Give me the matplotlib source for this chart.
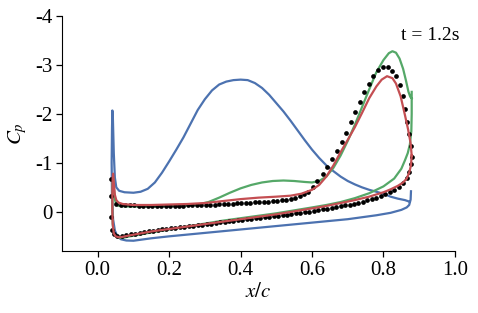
import matplotlib
matplotlib.use("Agg")
import matplotlib.pyplot as plt

plt.rcParams['font.family'] = ['Liberation Serif', 'DejaVu Serif']
plt.rcParams['mathtext.fontset'] = 'stix'
plt.rcParams['axes.unicode_minus'] = False

# blue: lower surface (TE -> LE) then upper surface (LE -> TE)
blue_x = [0.877, 0.876, 0.872, 0.865, 0.85, 0.82, 0.78, 0.70, 0.60, 0.50, 0.40, 0.30, 0.20,
          0.15, 0.12, 0.10, 0.08, 0.065, 0.055, 0.048, 0.043, 0.040, 0.039, 0.040, 0.041,
          0.0425, 0.045, 0.048, 0.052, 0.06, 0.075, 0.10, 0.12, 0.14, 0.16, 0.18, 0.20, 0.22,
          0.24, 0.26, 0.28, 0.30, 0.32, 0.34, 0.36, 0.38, 0.40, 0.42, 0.44, 0.46, 0.48, 0.50,
          0.52, 0.54, 0.56, 0.58, 0.60, 0.62, 0.64, 0.66, 0.68, 0.70, 0.72, 0.74, 0.76, 0.78,
          0.80, 0.82, 0.84, 0.86, 0.872]
blue_cp = [-0.42, -0.25, -0.14, -0.09, -0.04, 0.02, 0.07, 0.15, 0.22, 0.29, 0.36, 0.43, 0.50,
           0.54, 0.57, 0.59, 0.585, 0.56, 0.50, 0.38, 0.15, -0.3, -1.0, -1.7, -2.07,
           -1.9, -1.2, -0.7, -0.5, -0.43, -0.40, -0.39, -0.41, -0.47, -0.60, -0.80, -1.03, -1.27,
           -1.52, -1.80, -2.08, -2.30, -2.48, -2.60, -2.66, -2.69, -2.70, -2.69, -2.63, -2.53, -2.39, -2.22,
           -2.05, -1.86, -1.66, -1.46, -1.27, -1.10, -0.95, -0.83, -0.72, -0.63, -0.56, -0.50, -0.45, -0.41,
           -0.37, -0.31, -0.27, -0.24, -0.21]

# green
green_x = [0.879, 0.879, 0.878, 0.874, 0.868, 0.86, 0.85, 0.83, 0.80, 0.76, 0.72, 0.68, 0.64,
           0.60, 0.55, 0.50, 0.45, 0.40, 0.35, 0.30, 0.25, 0.20, 0.15, 0.12, 0.09, 0.07, 0.06,
           0.05, 0.045, 0.042, 0.041, 0.041, 0.042, 0.043,
           0.045, 0.048, 0.052, 0.06, 0.08, 0.12, 0.16, 0.20, 0.24, 0.28, 0.31, 0.34, 0.37, 0.40,
           0.43, 0.46, 0.49, 0.52, 0.55, 0.58, 0.60, 0.62, 0.64, 0.66, 0.68, 0.70, 0.72, 0.74,
           0.76, 0.78, 0.80, 0.815, 0.825, 0.835, 0.845, 0.855, 0.863, 0.870, 0.875, 0.879]
green_cp = [-2.45, -2.0, -1.65, -1.38, -1.20, -1.05, -0.88, -0.68, -0.52, -0.38, -0.28, -0.20, -0.14,
            -0.09, -0.03, 0.03, 0.08, 0.13, 0.18, 0.24, 0.30, 0.36, 0.42, 0.46, 0.50, 0.53, 0.53,
            0.50, 0.44, 0.25, 0.0, -0.4, -0.65, -0.70,
            -0.5, -0.25, -0.15, -0.12, -0.11, -0.11, -0.11, -0.12, -0.13, -0.15, -0.20, -0.29, -0.39, -0.48,
            -0.55, -0.60, -0.63, -0.64, -0.63, -0.61, -0.60, -0.63, -0.72, -0.90, -1.15, -1.45, -1.78, -2.14,
            -2.50, -2.85, -3.10, -3.24, -3.28, -3.25, -3.13, -2.92, -2.68, -2.45, -2.35, -2.32]

# red
red_x = [0.879, 0.877, 0.872, 0.865, 0.855, 0.84, 0.82, 0.80, 0.76, 0.72, 0.68, 0.64, 0.60,
         0.55, 0.50, 0.45, 0.40, 0.35, 0.30, 0.25, 0.20, 0.15, 0.12, 0.09, 0.07, 0.06, 0.05,
         0.045, 0.042, 0.041, 0.041, 0.042, 0.043,
         0.045, 0.048, 0.052, 0.058, 0.07, 0.10, 0.15, 0.20, 0.25, 0.30, 0.35, 0.40, 0.45, 0.50,
         0.54, 0.57, 0.60, 0.62, 0.64, 0.66, 0.68, 0.70, 0.72, 0.74, 0.76, 0.78, 0.795, 0.81,
         0.825, 0.835, 0.848, 0.860, 0.869, 0.876, 0.879]
red_cp = [-1.15, -0.95, -0.80, -0.68, -0.60, -0.53, -0.46, -0.40, -0.31, -0.24, -0.18, -0.12, -0.07,
          -0.01, 0.05, 0.10, 0.15, 0.20, 0.25, 0.30, 0.35, 0.40, 0.44, 0.48, 0.51, 0.52, 0.50,
          0.44, 0.25, 0.0, -0.4, -0.7, -0.78,
          -0.6, -0.35, -0.24, -0.19, -0.16, -0.14, -0.14, -0.15, -0.16, -0.18, -0.22, -0.26, -0.29, -0.31,
          -0.33, -0.37, -0.45, -0.55, -0.72, -0.95, -1.22, -1.47, -1.73, -2.02, -2.32, -2.56, -2.70, -2.77,
          -2.73, -2.62, -2.36, -1.98, -1.68, -1.40, -1.15]

# black dots, upper surface (LE -> TE)
dot_up_x = [0.036, 0.036, 0.037, 0.041,
            0.0525, 0.065, 0.0775, 0.09, 0.1025, 0.115, 0.1275, 0.14, 0.1525, 0.165, 0.1775,
            0.19, 0.2025, 0.215, 0.2275, 0.24, 0.2525, 0.265, 0.2775, 0.29, 0.3025, 0.315,
            0.3275, 0.34, 0.3525, 0.365, 0.3775, 0.39, 0.4025, 0.415, 0.4275, 0.44, 0.4525,
            0.465, 0.4775, 0.49, 0.5025, 0.515, 0.5275, 0.54, 0.5525, 0.565, 0.5775, 0.59,
            0.603, 0.615, 0.630, 0.643, 0.657, 0.670, 0.683, 0.696, 0.709, 0.721, 0.733, 0.746,
            0.760, 0.772, 0.786, 0.800, 0.812, 0.825, 0.835, 0.845, 0.854, 0.861, 0.867, 0.872,
            0.876, 0.879]
dot_up_cp = [-0.67, -0.33, 0.10, 0.38,
             -0.16, -0.14, -0.13, -0.13, -0.13, -0.12, -0.12, -0.12, -0.12, -0.12, -0.12,
             -0.12, -0.12, -0.12, -0.12, -0.12, -0.13, -0.13, -0.13, -0.14, -0.14, -0.15,
             -0.15, -0.16, -0.16, -0.17, -0.17, -0.18, -0.18, -0.19, -0.19, -0.20, -0.20,
             -0.21, -0.21, -0.22, -0.23, -0.24, -0.25, -0.27, -0.29, -0.32, -0.36, -0.41,
             -0.50, -0.62, -0.78, -0.92, -1.08, -1.25, -1.43, -1.62, -1.83, -2.03, -2.24, -2.44,
             -2.62, -2.78, -2.89, -2.95, -2.95, -2.88, -2.77, -2.60, -2.36, -2.10, -1.84, -1.58,
             -1.35, -1.12]

# black dots, lower surface (LE -> TE)
dot_lo_x = [0.045, 0.055, 0.0675, 0.08, 0.0925, 0.105, 0.1175, 0.13, 0.1425, 0.155, 0.1675,
            0.18, 0.1925, 0.205, 0.2175, 0.23, 0.2425, 0.255, 0.2675, 0.28, 0.2925, 0.305,
            0.3175, 0.33, 0.3425, 0.355, 0.3675, 0.38, 0.3925, 0.405, 0.4175, 0.43, 0.4425,
            0.455, 0.4675, 0.48, 0.4925, 0.505, 0.5175, 0.53, 0.5425, 0.555, 0.5675, 0.58,
            0.5925, 0.605, 0.6175, 0.63, 0.6425, 0.655, 0.6675, 0.68, 0.6925, 0.705, 0.7175,
            0.73, 0.7425, 0.755, 0.7675, 0.78, 0.7925, 0.805, 0.8175, 0.83, 0.8425, 0.855,
            0.865, 0.872, 0.876]
dot_lo_cp = [0.46, 0.50, 0.50, 0.48, 0.46, 0.45, 0.43, 0.42, 0.40, 0.39, 0.38,
             0.36, 0.35, 0.34, 0.33, 0.31, 0.30, 0.29, 0.28, 0.27, 0.26, 0.25,
             0.24, 0.22, 0.21, 0.20, 0.19, 0.18, 0.17, 0.16, 0.15, 0.14, 0.13,
             0.12, 0.11, 0.10, 0.09, 0.08, 0.07, 0.06, 0.05, 0.03, 0.02, 0.01,
             0.00, -0.02, -0.03, -0.05, -0.06, -0.08, -0.10, -0.11, -0.13, -0.15, -0.17,
             -0.19, -0.21, -0.24, -0.26, -0.29, -0.32, -0.36, -0.40, -0.45, -0.51, -0.59,
             -0.69, -0.82, -0.97]

fig = plt.figure(figsize=(4.78, 3.13), dpi=100)
ax = fig.add_axes([0.1297, 0.198, 0.822, 0.751])

ax.plot(blue_x, blue_cp, color='#4C72B0', lw=1.6)
ax.plot(green_x, green_cp, color='#55A868', lw=1.6)
ax.plot(dot_up_x, dot_up_cp, 'o', color='black', ms=3.4, mew=0, zorder=3)
ax.plot(dot_lo_x, dot_lo_cp, 'o', color='black', ms=3.4, mew=0, zorder=3)
ax.plot(red_x, red_cp, color='#C44E52', lw=1.6, zorder=4)

ax.set_xlim(-0.1, 1.0)
ax.set_ylim(0.8, -4)
ax.set_xticks([0.0, 0.2, 0.4, 0.6, 0.8, 1.0])
ax.set_yticks([-4, -3, -2, -1, 0])
ax.set_yticklabels(['-4', '-3', '-2', '-1', '0'])
ax.tick_params(labelsize=15, length=4, width=0.9, pad=3)
ax.spines['top'].set_visible(False)
ax.spines['right'].set_visible(False)
ax.set_xlabel('$x/c$', fontsize=15, labelpad=2)
ax.set_ylabel('$C_p$', fontsize=15, labelpad=4)
fig.text(0.962, 0.885, 't = 1.2s', ha='right', va='center', fontsize=14)

fig.savefig('out.png', dpi=100)
